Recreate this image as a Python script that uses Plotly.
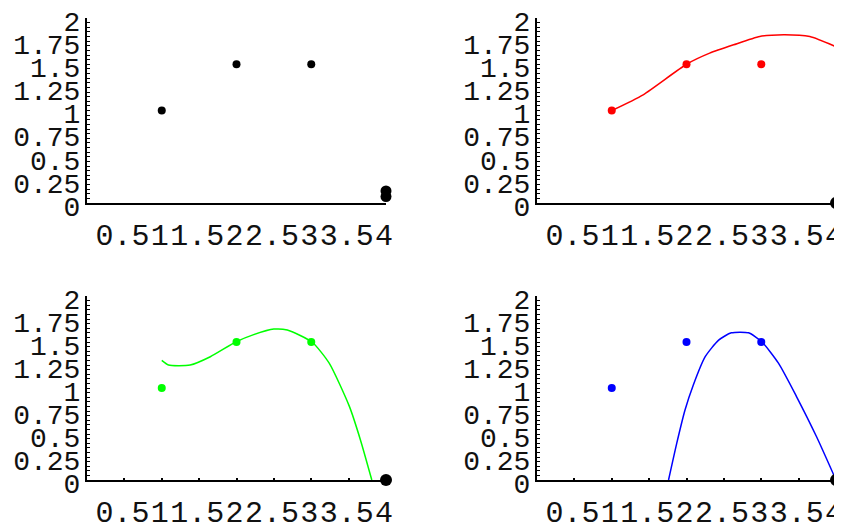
import plotly.graph_objects as go

# ---- data ----
pts_x = [1, 2, 3]
pts_y = [1.0, 1.5, 1.5]

blob_x = [4, 4]
blob_y = [0.07, 0.13]

end_x = [4]
end_y = [0.0]

red_x = [1.0, 1.42, 2.0, 2.31, 2.63, 2.98, 3.30, 3.65, 4.0]
red_y = [1.0, 1.17, 1.5, 1.62, 1.71, 1.80, 1.82, 1.80, 1.69]

green_x = [1.0, 1.09, 1.38, 1.65, 1.99, 2.23, 2.50, 2.68, 3.01, 3.24, 3.51, 3.66, 3.81]
green_y = [1.30, 1.25, 1.25, 1.34, 1.50, 1.58, 1.64, 1.63, 1.50, 1.27, 0.80, 0.43, 0.0]

blue_x = [1.76, 1.87, 1.98, 2.09, 2.25, 2.43, 2.60, 2.83, 3.01, 3.23, 3.47, 3.74, 4.0]
blue_y = [0.0, 0.40, 0.76, 1.03, 1.34, 1.52, 1.60, 1.60, 1.50, 1.27, 0.91, 0.47, 0.0]

x_ticks = [0.5, 1, 1.5, 2, 2.5, 3, 3.5, 4]
x_labels = ["0.5", "1", "1.5", "2", "2.5", "3", "3.5", "4"]
y_ticks = [0, 0.25, 0.5, 0.75, 1, 1.25, 1.5, 1.75, 2]
y_labels = ["0", "0.25", "0.5", "0.75", "1", "1.25", "1.5", "1.75", "2"]

PAGE_W, PAGE_H = 842, 528
OFF = 8  # default body margin of the page
W, H = PAGE_W - OFF, PAGE_H - OFF
FONT = "Liberation Mono, Courier New, monospace"

def px_x(p):
    return (p - OFF) / W

def px_y(p):
    return 1 - (p - OFF) / H

fig = go.Figure()

# panel geometry (page pixels -> paper fractions)
x_dom = [[px_x(87), px_x(386)], [px_x(537), px_x(836)]]
y_dom = [[px_y(203), px_y(18)], [px_y(480), px_y(296)]]

panels = [
    ("x", "y", 0, 0),
    ("x2", "y2", 1, 0),
    ("x3", "y3", 0, 1),
    ("x4", "y4", 1, 1),
]

def add_pts(xa, ya, xs, ys, color, size):
    fig.add_trace(go.Scatter(x=xs, y=ys, mode="markers", xaxis=xa, yaxis=ya,
                             marker=dict(color=color, size=size, line=dict(width=0)),
                             cliponaxis=False, hoverinfo="skip"))

def add_line(xa, ya, xs, ys, color):
    fig.add_trace(go.Scatter(x=xs, y=ys, mode="lines", xaxis=xa, yaxis=ya,
                             line=dict(color=color, width=1.5, shape="spline", smoothing=0.6),
                             cliponaxis=False, hoverinfo="skip"))

# panel 1: data points
add_pts("x", "y", pts_x, pts_y, "black", 8)
add_pts("x", "y", blob_x, blob_y, "black", 11)

# panel 2: red fit
add_line("x2", "y2", red_x, red_y, "#ff0000")
add_pts("x2", "y2", pts_x, pts_y, "#ff0000", 8)
add_pts("x2", "y2", end_x, end_y, "black", 12)

# panel 3: green fit
add_line("x3", "y3", green_x, green_y, "#00ff00")
add_pts("x3", "y3", pts_x, pts_y, "#00ff00", 8)
add_pts("x3", "y3", end_x, end_y, "black", 12)

# panel 4: blue fit
add_line("x4", "y4", blue_x, blue_y, "#0000ff")
add_pts("x4", "y4", pts_x, pts_y, "#0000ff", 8)
add_pts("x4", "y4", end_x, end_y, "black", 12)

layout = dict(width=W, height=H, margin=dict(l=0, r=0, t=0, b=0, autoexpand=False),
              paper_bgcolor="white", plot_bgcolor="white", showlegend=False)

for xa, ya, c, r in panels:
    xkey = "xaxis" + xa[1:]
    ykey = "yaxis" + ya[1:]
    layout[xkey] = dict(
        domain=x_dom[c], range=[0, 4], anchor=ya, automargin=False,
        showline=True, linecolor="black", linewidth=2, zeroline=False, showgrid=False,
        tickvals=x_ticks, ticktext=x_labels, tickangle=0,
        ticks="inside" if r == 1 else "", ticklen=2, tickwidth=2, tickcolor="black",
        tickfont=dict(family=FONT, size=30, color="#111"),
        ticklabeloverflow="allow", ticklabelstandoff=4, ticklabelshift=-2,
        fixedrange=True,
    )
    layout[ykey] = dict(
        domain=y_dom[r], range=[0, 2], anchor=xa, automargin=False,
        showline=True, linecolor="black", linewidth=2, zeroline=False, showgrid=False,
        tickvals=y_ticks, ticktext=y_labels,
        ticks="inside", ticklen=3, tickwidth=1, tickcolor="black",
        minor=dict(dtick=0.05, ticks="inside", ticklen=3, tickwidth=1, tickcolor="black"),
        tickfont=dict(family=FONT, size=28, color="#111"),
        ticklabeloverflow="allow", ticklabelstandoff=-1, ticklabelshift=3,
        fixedrange=True,
    )

fig.update_layout(**layout)
fig.write_html("out.html")
